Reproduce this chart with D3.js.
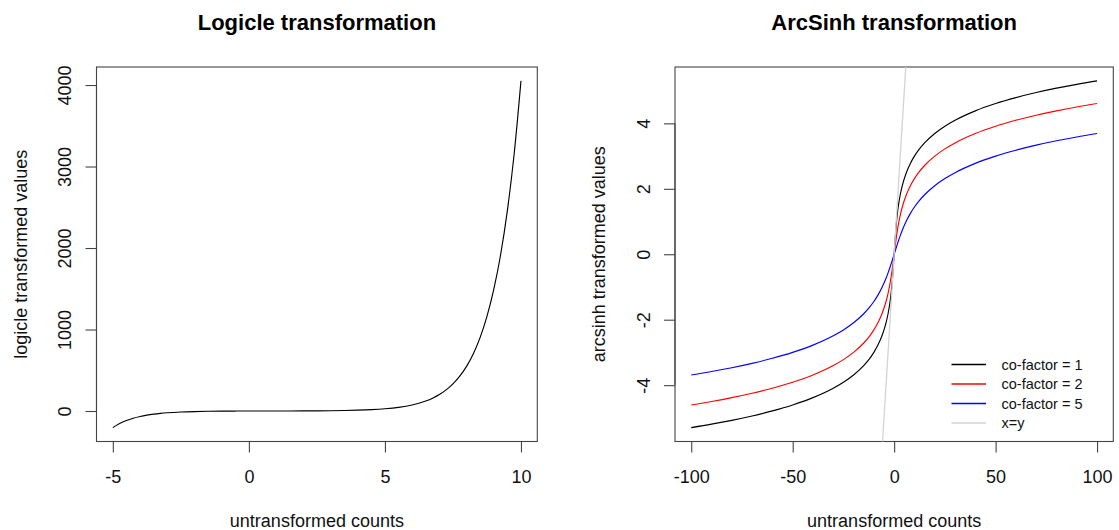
<!DOCTYPE html>
<html>
<head>
<meta charset="utf-8">
<script src="https://cdn.jsdelivr.net/npm/d3@7"></script>
<style>
  html, body { margin: 0; padding: 0; background: #fff; }
  svg { display: block; font-family: "Liberation Sans", Arial, Helvetica, sans-serif; }
</style>
</head>
<body>
<svg id="chart" width="1119" height="530"></svg>
<script>
// ---------- data ----------
const logicleX = [-5,-4.75,-4.5,-4.25,-4,-3.75,-3.5,-3.25,-3,-2.5,-2,-1.5,-1,-0.5,0,0.5,1,1.5,2,2.5,3,3.5,4,4.5,5,5.5,6,6.5,6.75,7,7.25,7.5,7.75,8,8.25,8.5,8.75,9,9.25,9.5,9.75,10];
const logicleY = [-204,-153.5,-116.4,-88.2,-66.8,-50.5,-38.2,-28.8,-21.7,-12.1,-6.7,-3.5,-1.7,-0.6,0,0.1,0.3,0.6,1.2,2.1,3.5,5.9,9.9,16.4,27.1,44.6,74,122,157,202,259,333,427,548,704,904,1161,1491,1914,2458,3156,4051];

const asinhX = [-100,-90,-80,-70,-60,-50,-40,-30,-25,-20,-15,-12,-10,-8,-6,-4,-3,-2,-1.5,-1,-0.5,0,0.5,1,1.5,2,3,4,6,8,10,12,15,20,25,30,40,50,60,70,80,90,100];
const cofactor1 = [-5.2983,-5.1930,-5.0752,-4.9417,-4.7876,-4.6053,-4.3822,-4.0946,-3.9128,-3.6895,-3.4023,-3.1798,-2.9982,-2.7765,-2.4918,-2.0947,-1.8184,-1.4436,-1.1948,-0.8814,-0.4812,
  0,0.4812,0.8814,1.1948,1.4436,1.8184,2.0947,2.4918,2.7765,2.9982,3.1798,3.4023,3.6895,3.9128,4.0946,4.3822,4.6053,4.7876,4.9417,5.0752,5.1930,5.2983];
const cofactor2 = [-4.6053,-4.5000,-4.3822,-4.2487,-4.0946,-3.9128,-3.6895,-3.4023,-3.2205,-2.9982,-2.7125,-2.4918,-2.3124,-2.0947,-1.8184,-1.4436,-1.1948,-0.8814,-0.6931,-0.4812,-0.2475,
  0,0.2475,0.4812,0.6931,0.8814,1.1948,1.4436,1.8184,2.0947,2.3124,2.4918,2.7125,2.9982,3.2205,3.4023,3.6895,3.9128,4.0946,4.2487,4.3822,4.5000,4.6053];
const cofactor5 = [-3.6895,-3.5843,-3.4667,-3.3335,-3.1798,-2.9982,-2.7765,-2.4918,-2.3124,-2.0947,-1.8184,-1.6094,-1.4436,-1.2490,-1.0160,-0.7327,-0.5688,-0.3900,-0.2957,-0.1987,-0.0998,
  0,0.0998,0.1987,0.2957,0.3900,0.5688,0.7327,1.0160,1.2490,1.4436,1.6094,1.8184,2.0947,2.3124,2.4918,2.7765,2.9982,3.1798,3.3335,3.4667,3.5843,3.6895];
const identityX = [-100, 100];
const identityY = [-100, 100];

const leftXTicks = [-5, 0, 5, 10];
const leftYTicks = [0, 1000, 2000, 3000, 4000];
const rightXTicks = [-100, -50, 0, 50, 100];
const rightYTicks = [-4, -2, 0, 2, 4];

const legendLabels = ["co-factor = 1", "co-factor = 2", "co-factor = 5", "x=y"];
const legendColors = ["#000000", "#ff0000", "#0000ff", "#d3d3d3"];

const titles = ["Logicle transformation", "ArcSinh transformation"];
const xTitles = ["untransformed counts", "untransformed counts"];
const yTitles = ["logicle transformed values", "arcsinh transformed values"];

// ---------- layout ----------
const svg = d3.select("#chart");
const TOP = 67, BOTTOM = 441.5, TICK = 11, FONT = 18;
const panels = [
  { left: 96.5, right: 537.3 },
  { left: 675, right: 1113.3 }
];

function expand(ext) {
  const d = (ext[1] - ext[0]) * 0.04;
  return [ext[0] - d, ext[1] + d];
}

function drawPanel(p, xs, ys, xTicks, yTicks, series, title, xTitle, yTitle, clipId) {
  const g = svg.append("g");
  const x = d3.scaleLinear().domain(expand(d3.extent(xs))).range([p.left, p.right]);
  const yAll = series.flatMap(s => s.values);
  const y = d3.scaleLinear().domain(expand(d3.extent(yAll))).range([BOTTOM, TOP]);

  svg.append("clipPath").attr("id", clipId).append("rect")
    .attr("x", p.left).attr("y", TOP).attr("width", p.right - p.left).attr("height", BOTTOM - TOP);

  // x axis
  const xa = g.append("g").attr("transform", `translate(0,${BOTTOM})`)
    .call(d3.axisBottom(x).tickValues(xTicks).tickSize(TICK).tickSizeOuter(0).tickPadding(0).tickFormat(d3.format("d")));
  xa.select(".domain").remove();
  xa.selectAll(".tick line").attr("stroke", "#444").attr("stroke-width", 1.1);
  xa.selectAll(".tick text").attr("y", 41.2).attr("dy", 0)
    .attr("font-size", FONT).attr("fill", "#111").attr("font-family", "Liberation Sans, Arial, sans-serif")
    .text(d => d < 0 ? "-" + Math.abs(d) : String(d));
  xa.append("line").attr("x1", x(xTicks[0])).attr("x2", x(xTicks[xTicks.length - 1]))
    .attr("y1", 0).attr("y2", 0).attr("stroke", "#444").attr("stroke-width", 1.1);

  // y axis
  const ya = g.append("g").attr("transform", `translate(${p.left},0)`)
    .call(d3.axisLeft(y).tickValues(yTicks).tickSize(TICK).tickSizeOuter(0).tickPadding(0));
  ya.select(".domain").remove();
  ya.selectAll(".tick line").attr("stroke", "#444").attr("stroke-width", 1.1);
  ya.selectAll(".tick text")
    .attr("transform", "rotate(-90)").attr("x", 0).attr("y", -25.5).attr("dy", 0)
    .attr("text-anchor", "middle")
    .attr("font-size", FONT).attr("fill", "#111").attr("font-family", "Liberation Sans, Arial, sans-serif")
    .text(d => d < 0 ? "-" + Math.abs(d) : String(d));
  ya.append("line").attr("x1", 0).attr("x2", 0)
    .attr("y1", y(yTicks[0])).attr("y2", y(yTicks[yTicks.length - 1]))
    .attr("stroke", "#444").attr("stroke-width", 1.1);

  // series
  const plot = g.append("g").attr("clip-path", `url(#${clipId})`);
  series.forEach(s => {
    const pts = s.x.map((v, i) => [v, s.values[i]]);
    const line = d3.line().x(d => x(d[0])).y(d => y(d[1])).curve(d3.curveMonotoneX);
    plot.append("path").attr("d", line(pts)).attr("fill", "none")
      .attr("stroke", s.color).attr("stroke-width", 1.15);
  });

  // box
  g.append("rect").attr("x", p.left).attr("y", TOP)
    .attr("width", p.right - p.left).attr("height", BOTTOM - TOP)
    .attr("fill", "none").attr("stroke", "#444").attr("stroke-width", 1.1);

  const cx = (p.left + p.right) / 2;
  g.append("text").attr("x", cx).attr("y", 30).attr("text-anchor", "middle")
    .attr("font-size", 22).attr("font-weight", "bold").attr("fill", "#000").text(title);
  g.append("text").attr("x", cx).attr("y", 527).attr("text-anchor", "middle")
    .attr("font-size", FONT).attr("fill", "#111").text(xTitle);
  const cy = (TOP + BOTTOM) / 2;
  g.append("text").attr("transform", `translate(${p.left - 70},${cy}) rotate(-90)`)
    .attr("text-anchor", "middle").attr("font-size", FONT).attr("fill", "#111").text(yTitle);

  return { x, y, g };
}

// left panel
drawPanel(panels[0], logicleX, logicleY, leftXTicks, leftYTicks,
  [{ x: logicleX, values: logicleY, color: "#000" }],
  titles[0], xTitles[0], yTitles[0], "clipL");

// right panel
const right = drawPanel(panels[1], asinhX, cofactor1, rightXTicks, rightYTicks,
  [
    { x: asinhX, values: cofactor1, color: legendColors[0] },
    { x: asinhX, values: cofactor2, color: legendColors[1] },
    { x: asinhX, values: cofactor5, color: legendColors[2] }
  ],
  titles[1], xTitles[1], yTitles[1], "clipR");

// x=y line (clipped)
right.g.append("g").attr("clip-path", "url(#clipR)")
  .append("path")
  .attr("d", d3.line().x(d => right.x(d[0])).y(d => right.y(d[1]))(identityX.map((v, i) => [v, identityY[i]])))
  .attr("fill", "none").attr("stroke", legendColors[3]).attr("stroke-width", 1.3);

// legend
const legendRowsY = [364.5, 384, 403.5, 423];
const lg = svg.append("g");
legendLabels.forEach((lab, i) => {
  lg.append("line").attr("x1", 951.5).attr("x2", 986).attr("y1", legendRowsY[i]).attr("y2", legendRowsY[i])
    .attr("stroke", legendColors[i]).attr("stroke-width", 1.3);
  lg.append("text").attr("x", 1001.5).attr("y", legendRowsY[i]).attr("dy", "0.36em")
    .attr("font-size", 14.5).attr("fill", "#111").text(lab);
});
</script>
</body>
</html>
